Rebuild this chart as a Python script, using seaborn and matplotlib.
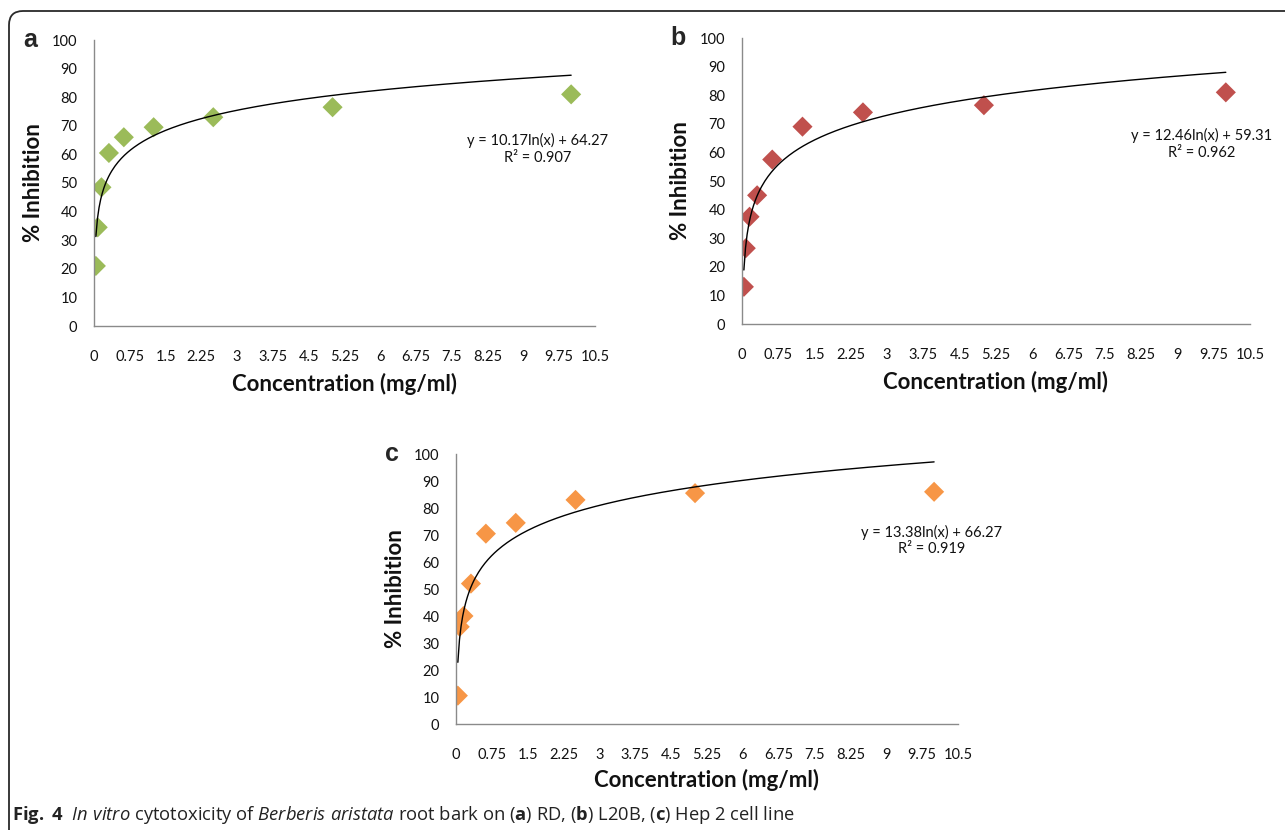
import numpy as np
import pandas as pd
import matplotlib
matplotlib.use("Agg")
import matplotlib.pyplot as plt
from matplotlib.patches import FancyBboxPatch
import seaborn as sns

# Concentrations tested (mg/ml)
conc = [0.039, 0.078, 0.156, 0.3125, 0.625, 1.25, 2.5, 5, 10]

# % inhibition per cell line
inhib_rd = [21, 34.5, 48.5, 60.5, 66, 69.5, 73, 76.5, 81]
inhib_l20b = [13, 26.5, 37.5, 45, 57.5, 69, 74, 76.5, 81]
inhib_hep2 = [10.5, 36, 40, 52, 70.5, 74.5, 83, 85.5, 86]

# log trendline coefficients (slope, intercept) and R^2 as printed
fit_rd = [10.17, 64.27, 0.907]
fit_l20b = [12.46, 59.31, 0.962]
fit_hep2 = [13.38, 66.27, 0.919]

xticks = [0, 0.75, 1.5, 2.25, 3, 3.75, 4.5, 5.25, 6, 6.75, 7.5, 8.25, 9, 9.75, 10.5]
yticks = [0, 10, 20, 30, 40, 50, 60, 70, 80, 90, 100]

sns.set_style("white")
plt.rcParams['font.family'] = ['Lato', 'DejaVu Sans']
plt.rcParams['mathtext.fontset'] = 'custom'
plt.rcParams['mathtext.rm'] = 'Open Sans'
plt.rcParams['mathtext.it'] = 'Open Sans:italic'
plt.rcParams['mathtext.bf'] = 'Open Sans:bold'

W, H = 1285, 830
fig = plt.figure(figsize=(W / 100, H / 100), dpi=100)


def box(left, top, right, bottom):
    return [left / W, 1 - bottom / H, (right - left) / W, (bottom - top) / H]


panels = [
    ("a", box(94, 40, 595, 326), inhib_rd, fit_rd, "#9BBB59", (9.3, 62)),
    ("b", box(742, 38, 1250, 324), inhib_l20b, fit_l20b, "#C0504D", (9.5, 63)),
    ("c", box(456, 454, 958, 724), inhib_hep2, fit_hep2, "#F79646", (9.95, 68)),
]

gray = "#8a8a8a"
for letter, pos, vals, fit, col, eqpos in panels:
    ax = fig.add_axes(pos)
    df = pd.DataFrame({"conc": conc, "inhib": vals})
    xs = np.linspace(conc[0], conc[-1], 300)
    trend = pd.DataFrame({"x": xs, "y": fit[0] * np.log(xs) + fit[1]})
    sns.lineplot(data=trend, x="x", y="y", ax=ax, color="black", lw=1.0, zorder=3)
    sns.scatterplot(data=df, x="conc", y="inhib", ax=ax, marker="D", s=105,
                    color=col, edgecolor="none", zorder=2)
    ax.set_xlim(0, 10.5)
    ax.set_ylim(0, 100)
    ax.set_xticks(xticks)
    ax.set_xticklabels(["{:g}".format(t) for t in xticks])
    ax.set_yticks(yticks)
    sns.despine(ax=ax)
    for sp in ["left", "bottom"]:
        ax.spines[sp].set_color(gray)
        ax.spines[sp].set_linewidth(1.0)
    ax.tick_params(axis="x", direction="out", length=5, width=1, color=gray,
                   pad=12, labelsize=10.5, labelcolor="#111111")
    ax.tick_params(axis="y", direction="out", length=5, width=1, color=gray,
                   pad=7, labelsize=10.5, labelcolor="#111111")
    ax.set_xlabel("Concentration (mg/ml)", fontsize=16, fontweight="bold", color="#111111")
    ax.set_ylabel("% Inhibition", fontsize=16, fontweight="bold", color="#111111")
    ax.xaxis.set_label_coords(0.5, -0.165)
    ax.yaxis.set_label_coords(-0.10, 0.5)
    ax.text(-0.127, 1.0, letter, transform=ax.transAxes, ha="center", va="center",
            fontsize=18, fontweight="bold", family="Liberation Sans")
    ax.text(eqpos[0], eqpos[1],
            "y = {:.2f}ln(x) + {:.2f}\nR² = {:.3f}".format(fit[0], fit[1], fit[2]),
            ha="center", va="center", multialignment="center", fontsize=10.5,
            linespacing=1.25, color="#111111")

# outer frame (rounded top-left corner, runs off the right/bottom edge)
frame = FancyBboxPatch((9, -40), W + 60, H - 11 + 40,
                       boxstyle="round,pad=0,rounding_size=14",
                       transform=None, fill=False, edgecolor="#2a2a2a", lw=1.3)
fig.patches.append(frame)

caption = (r"$\mathbf{Fig.\ 4}$  $\mathit{In\ vitro}$ cytotoxicity of "
           r"$\mathit{Berberis\ aristata}$ root bark on ($\mathbf{a}$) RD, "
           r"($\mathbf{b}$) L20B, ($\mathbf{c}$) Hep 2 cell line")
fig.text(12 / W, 1 - 815 / H, caption, ha="left", va="center", fontsize=13.2,
         family="Open Sans", color="#222222")

fig.savefig("out.png", dpi=100)
